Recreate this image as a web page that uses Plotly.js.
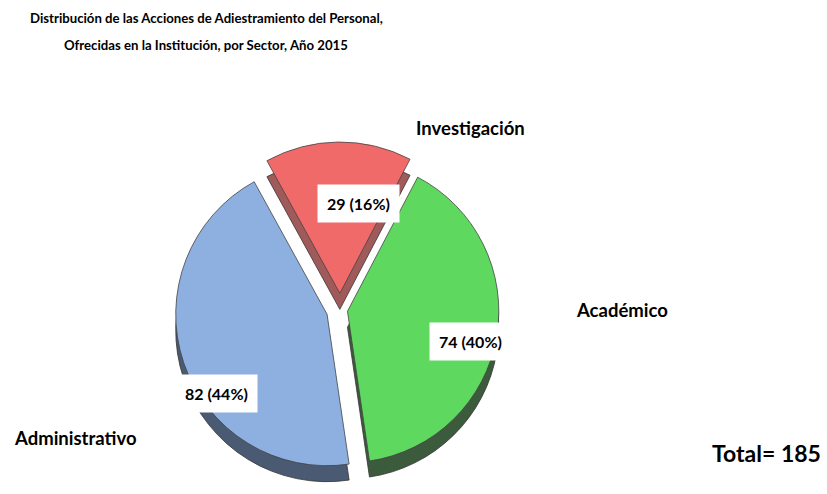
<!DOCTYPE html>
<html>
<head>
<meta charset="utf-8">
<script src="https://cdn.plot.ly/plotly-3.0.1.min.js"></script>
<style>html,body{margin:0;padding:0;background:#fff;}#chart{width:827px;height:494px;}</style>
</head>
<body>
<div id="chart"></div>
<script>
const categories = ["Investigación", "Académico", "Administrativo"];
const values = [29, 74, 82];
const percents = [16, 40, 44];
const total = 185;
const titleLines = ["Distribución de las Acciones de Adiestramiento del Personal,", "Ofrecidas en la Institución, por Sector, Año 2015"];

const topColors = ["#f06a6a", "#5fd85f", "#8db0e0"];
const sideColors = ["#a05a5a", "#3c5a3c", "#4a5a72"];
const pulls = [0.11, 0.05, 0.09];

const FONT = "Lato, Liberation Sans, sans-serif";

const W = 827, H = 494;
const cx = 340, cy = 310, half = 168, depth = 16;
function dom(offsetY) {
  const cyb = H - (cy + offsetY);
  return {x: [(cx - half) / W, (cx + half) / W],
          y: [Math.max(0, (cyb - half) / H), Math.min(1, (cyb + half) / H)]};
}

const sideTrace = {
  type: "pie", values: values, labels: categories, sort: false, direction: "clockwise",
  rotation: -percents[0] * 3.6 / 2, pull: pulls, textinfo: "none", hoverinfo: "skip",
  marker: {colors: sideColors, line: {color: "#333", width: 0.8}},
  domain: dom(depth), showlegend: false
};
const topTrace = {
  type: "pie", values: values, labels: categories, sort: false, direction: "clockwise",
  rotation: -percents[0] * 3.6 / 2, pull: pulls, textinfo: "none",
  marker: {colors: topColors, line: {color: "#444", width: 0.8}},
  domain: dom(0), showlegend: false
};

function P(x, y) { return {x: x / W, y: 1 - y / H, xref: "paper", yref: "paper", xanchor: "center", yanchor: "middle", showarrow: false}; }

const valuePos = [[358, 203], [471, 341], [217, 393]];
const catPos = [[471, 128], [622, 310], [75, 438]];
const annotations = [];
categories.forEach((c, i) => {
  annotations.push(Object.assign(P(valuePos[i][0], valuePos[i][1]), {
    text: "<b>" + values[i] + " (" + percents[i] + "%)</b>",
    bgcolor: "#ffffff", borderpad: 9,
    font: {family: FONT, size: 16, color: "#000"}
  }));
  annotations.push(Object.assign(P(catPos[i][0], catPos[i][1]), {
    text: "<b>" + c + "</b>", font: {family: FONT, size: 18.5, color: "#000"}
  }));
});
annotations.push(Object.assign(P(766, 453), {
  text: "<b>Total= " + total + "</b>", font: {family: FONT, size: 23, color: "#000"}
}));
titleLines.forEach((t, i) => {
  annotations.push(Object.assign(P(206, 18 + 27 * i), {
    text: "<b>" + t + "</b>", font: {family: FONT, size: 13.2, color: "#000"}
  }));
});

const layout = {
  width: W, height: H, margin: {l: 0, r: 0, t: 0, b: 0},
  paper_bgcolor: "#fff",
  annotations: annotations
};
Plotly.newPlot("chart", [sideTrace, topTrace], layout, {displayModeBar: false});
</script>
</body>
</html>
